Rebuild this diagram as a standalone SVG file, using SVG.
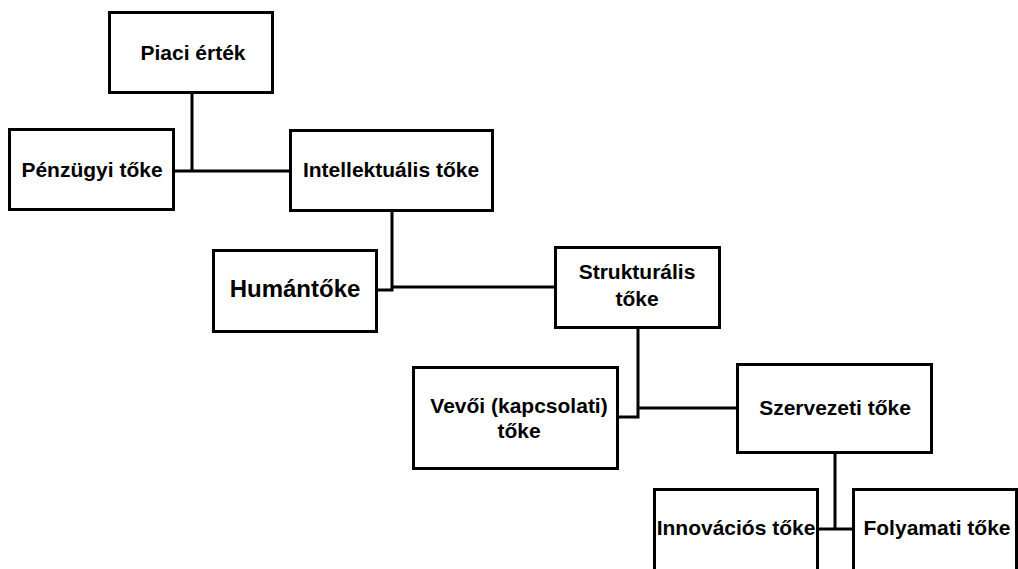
<svg xmlns="http://www.w3.org/2000/svg" width="1018" height="569" viewBox="0 0 1018 569">
<style>
.box{fill:#fff;stroke:#000;stroke-width:3}
.lbl{font-family:"Liberation Sans",Arial,sans-serif;font-weight:bold;font-size:21px;fill:#000;text-anchor:middle}
.hum{font-size:24px}
.con{fill:none;stroke:#000;stroke-width:3}
</style>
<rect width="1018" height="569" fill="#fff"/>
<g id="connectors">
<path class="con" d="M192 93V171M174 171H290"/>
<path class="con" d="M392 211V290H376M392 287H555"/>
<path class="con" d="M638 328V417H617M638 408H737"/>
<path class="con" d="M835 453V529M817 529H853"/>
</g>
<g id="piaci"><rect class="box" x="109.5" y="12.5" width="163" height="80"/><text class="lbl" x="193" y="60">Piaci érték</text></g>
<g id="penzugyi"><rect class="box" x="9.5" y="129.5" width="164" height="80"/><text class="lbl" x="92" y="177">Pénzügyi tőke</text></g>
<g id="intellektualis"><rect class="box" x="290.5" y="130.5" width="202" height="80"/><text class="lbl" x="391" y="177">Intellektuális tőke</text></g>
<g id="human"><rect class="box" x="213.5" y="250.5" width="163" height="81"/><text class="lbl hum" x="295" y="297">Humántőke</text></g>
<g id="strukturalis"><rect class="box" x="555.5" y="247.5" width="164" height="80"/><text class="lbl" x="637" y="279">Strukturális</text><text class="lbl" x="637" y="306">tőke</text></g>
<g id="vevoi"><rect class="box" x="413.5" y="367.5" width="204" height="101"/><text class="lbl" x="519" y="413">Vevői (kapcsolati)</text><text class="lbl" x="519" y="438">tőke</text></g>
<g id="szervezeti"><rect class="box" x="737.5" y="364.5" width="194" height="88"/><text class="lbl" x="835" y="415">Szervezeti tőke</text></g>
<g id="innovacios"><rect class="box" x="654.5" y="489.5" width="163" height="100"/><text class="lbl" x="736" y="535">Innovációs tőke</text></g>
<g id="folyamati"><rect class="box" x="853.5" y="489.5" width="163" height="100"/><text class="lbl" x="937" y="535">Folyamati tőke</text></g>
</svg>
